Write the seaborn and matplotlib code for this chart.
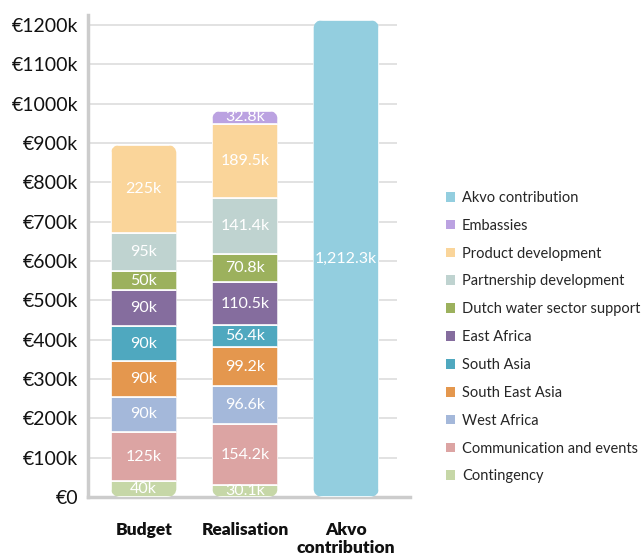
import matplotlib
matplotlib.use("Agg")
import matplotlib.pyplot as plt
from matplotlib.patches import FancyBboxPatch, Patch
import numpy as np
import pandas as pd
import seaborn as sns

# Data (in thousands of euro), stacked bottom -> top
groups = ["Budget", "Realisation", "Akvo\ncontribution"]
series = ["Contingency", "Communication and events", "West Africa", "South East Asia",
          "South Asia", "East Africa", "Dutch water sector support",
          "Partnership development", "Product development", "Embassies",
          "Akvo contribution"]
budget = [40, 125, 90, 90, 90, 90, 50, 95, 225, 0, 0]
realisation = [30.1, 154.2, 96.6, 99.2, 56.4, 110.5, 70.8, 141.4, 189.5, 32.8, 0]
akvo = [0, 0, 0, 0, 0, 0, 0, 0, 0, 0, 1212.3]
yticks = [0, 100, 200, 300, 400, 500, 600, 700, 800, 900, 1000, 1100, 1200]

colors = {
    "Contingency": "#C6D7A7",
    "Communication and events": "#DCA4A3",
    "West Africa": "#A4B8DA",
    "South East Asia": "#E4974E",
    "South Asia": "#4FA8BF",
    "East Africa": "#856D9E",
    "Dutch water sector support": "#9CB15D",
    "Partnership development": "#BFD3D0",
    "Product development": "#FAD59A",
    "Embassies": "#BBA2E1",
    "Akvo contribution": "#93CEDF",
}

df = pd.DataFrame({
    "group": np.repeat(groups, len(series)),
    "series": series * len(groups),
    "value": budget + realisation + akvo,
})
df["bottom"] = df.groupby("group", sort=False)["value"].cumsum() - df["value"]

sns.set_style("whitegrid")
plt.rcParams["font.family"] = ["Lato", "DejaVu Sans"]

fig = plt.figure(figsize=(6.43, 5.53), dpi=100)
ax = fig.add_axes([88 / 643, 1 - 497 / 553, (410 - 88) / 643, (497 - 15) / 553])

bar_w = 0.65
for s in series:
    sub = df[(df["series"] == s) & (df["value"] > 0)]
    sns.barplot(data=sub, x="group", y="value", order=groups, color=colors[s],
                bottom=sub["bottom"].values, width=bar_w, errorbar=None,
                edgecolor="white", linewidth=1.2, saturation=1, ax=ax, zorder=3)

xmin, xmax = -0.55, 2.63
ax.set_xlim(xmin, xmax)
ax.set_ylim(0, 1225)
ax.set_yticks(yticks)
ax.set_yticklabels([f"€{v}k" if v else "€0" for v in yticks])
ax.set_xlabel("")
ax.set_ylabel("")

# rounded outline of each stacked column, used as clip path
fig.canvas.draw()
bb = ax.get_window_extent()
px_x = bb.width / (xmax - xmin)
px_y = bb.height / 1225
radius_px = 10
totals = df.groupby("group", sort=False)["value"].sum()
boxes = []
for i, g in enumerate(groups):
    box = FancyBboxPatch((i - bar_w / 2, 0), bar_w, totals[g],
                         boxstyle=f"round,pad=0,rounding_size={radius_px / px_x}",
                         mutation_aspect=px_x / px_y,
                         transform=ax.transData, facecolor="none", edgecolor="none")
    boxes.append(box)

for p in ax.patches:
    cx = p.get_x() + p.get_width() / 2
    p.set_clip_path(boxes[int(round(cx))])

# value labels
for _, r in df[df["value"] > 0].iterrows():
    i = groups.index(r["group"])
    v = r["value"]
    lab = f"{v:,.0f}k" if float(v).is_integer() else f"{v:,.1f}k"
    t = ax.text(i, r["bottom"] + v / 2, lab, ha="center", va="center",
                color="white", fontsize=11.5, zorder=5)
    t.set_clip_path(boxes[i])

# grid stops a little short of the axis end, as in the original
ax.grid(False)
for y in yticks[1:]:
    ax.plot([xmin, 2.5], [y, y], color="#dddddd", linewidth=1.2, zorder=0,
            solid_capstyle="butt")
ax.set_xlim(xmin, xmax)
for side in ["top", "right"]:
    ax.spines[side].set_visible(False)
for side in ["left", "bottom"]:
    ax.spines[side].set_color("#cccccc")
    ax.spines[side].set_linewidth(2.5)

ax.tick_params(axis="y", length=0, pad=7, labelsize=14, labelcolor="#111111")
ax.tick_params(axis="x", length=0, pad=18, labelsize=12.5, labelcolor="#111111")
for lbl in ax.get_xticklabels():
    lbl.set_fontweight("heavy")
    lbl.set_linespacing(1.15)
    lbl.set_va("top")

handles = [Patch(facecolor=colors[s], edgecolor="none") for s in reversed(series)]
fig.legend(handles, list(reversed(series)), loc="upper left",
           bbox_to_anchor=(440 / 643, 1 - 185 / 553), frameon=False,
           fontsize=10.5, handlelength=0.65, handleheight=0.65,
           handletextpad=0.45, labelspacing=0.95, borderaxespad=0)

fig.savefig("out.png", dpi=100)
